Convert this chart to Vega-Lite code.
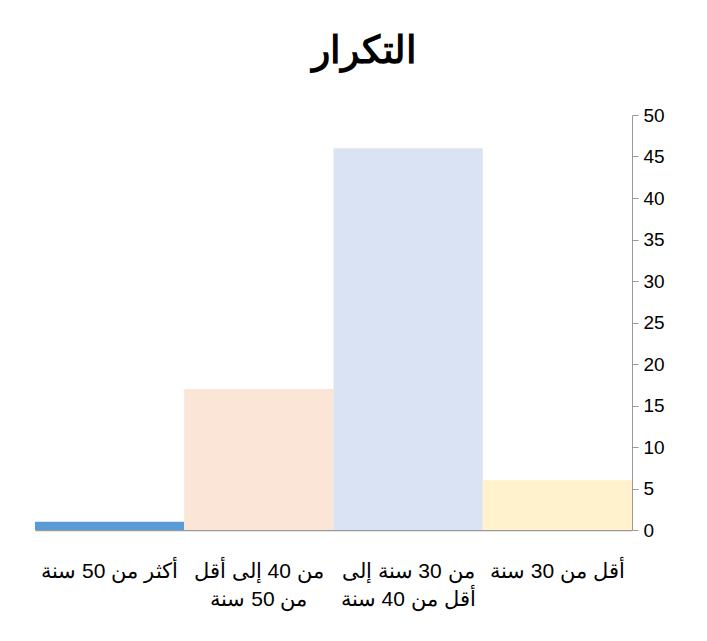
{
  "$schema": "https://vega.github.io/schema/vega-lite/v6.json",
  "autosize": "none",
  "width": 597,
  "height": 415,
  "padding": {"left": 35, "top": 115, "right": 75, "bottom": 111},
  "background": "white",
  "config": {
    "view": {"stroke": null},
    "font": "Liberation Sans"
  },
  "title": {
    "text": "التكرار",
    "font": "Liberation Sans",
    "fontSize": 38,
    "fontWeight": "bold",
    "color": "#000000",
    "anchor": "middle",
    "frame": "group",
    "dx": 31,
    "offset": 35
  },
  "data": {
    "values": [
      {"group": "أكثر من 50 سنة", "freq": 1},
      {"group": "من 40 إلى أقل من 50 سنة", "freq": 17},
      {"group": "من 30 سنة إلى أقل من 40 سنة", "freq": 46},
      {"group": "أقل من 30 سنة", "freq": 6}
    ]
  },
  "mark": {"type": "bar"},
  "encoding": {
    "x": {
      "field": "group",
      "type": "nominal",
      "sort": null,
      "title": null,
      "scale": {"paddingInner": 0, "paddingOuter": 0},
      "axis": {
        "labelAngle": 0,
        "ticks": false,
        "domainColor": "#9a9a9a",
        "domainWidth": 1.5,
        "labelFontSize": 21,
        "labelColor": "#000000",
        "labelPadding": 30,
        "labelLineHeight": 28,
        "labelBaseline": "top",
        "labelExpr": "datum.label == 'من 40 إلى أقل من 50 سنة' ? ['من 40 إلى أقل', 'من 50 سنة'] : datum.label == 'من 30 سنة إلى أقل من 40 سنة' ? ['من 30 سنة إلى', 'أقل من 40 سنة'] : datum.label"
      }
    },
    "y": {
      "field": "freq",
      "type": "quantitative",
      "title": null,
      "scale": {"domain": [0, 50], "nice": false},
      "axis": {
        "orient": "right",
        "values": [0, 5, 10, 15, 20, 25, 30, 35, 40, 45, 50],
        "grid": false,
        "tickSize": 6,
        "tickColor": "#9a9a9a",
        "domainColor": "#9a9a9a",
        "labelFontSize": 19,
        "labelColor": "#000000",
        "labelPadding": 5
      }
    },
    "color": {
      "field": "group",
      "type": "nominal",
      "sort": null,
      "legend": null,
      "scale": {
        "domain": ["أكثر من 50 سنة", "من 40 إلى أقل من 50 سنة", "من 30 سنة إلى أقل من 40 سنة", "أقل من 30 سنة"],
        "range": ["#5B9BD5", "#FBE5D6", "#DAE3F3", "#FFF2CC"]
      }
    }
  }
}
